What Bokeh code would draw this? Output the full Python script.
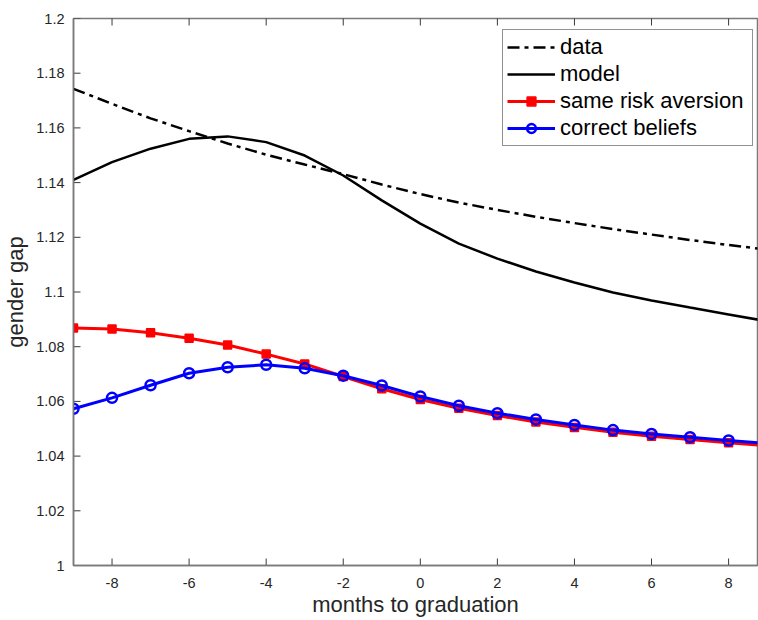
import math
from bokeh.plotting import figure
from bokeh.models import (Range1d, FixedTicker, LinearAxis, Legend, LegendItem)
from bokeh.embed import file_html
from bokeh.resources import INLINE

# months relative to graduation
months = [-9, -8, -7, -6, -5, -4, -3, -2, -1, 0, 1, 2, 3, 4, 5, 6, 7, 8, 9]

# gender gap series
data_gap = [1.1743, 1.1688, 1.1635, 1.1588, 1.1543, 1.1502, 1.1466, 1.1431, 1.1393,
            1.1358, 1.1327, 1.1300, 1.1275, 1.1252, 1.1230, 1.1210, 1.1190, 1.1172, 1.1155]
model_gap = [1.1410, 1.1475, 1.1524, 1.1560, 1.1569, 1.1548, 1.1499, 1.1426, 1.1335,
             1.1250, 1.1177, 1.1122, 1.1075, 1.1035, 1.0998, 1.0969, 1.0943, 1.0918, 1.0893]
same_risk_gap = [1.0868, 1.0865, 1.0851, 1.0831, 1.0806, 1.0773, 1.0737, 1.0691, 1.0646,
                 1.0607, 1.0575, 1.0548, 1.0525, 1.0505, 1.0487, 1.0473, 1.0461, 1.0449, 1.0438]
correct_beliefs_gap = [1.0573, 1.0613, 1.0659, 1.0703, 1.0725, 1.0734, 1.0721, 1.0694, 1.0658,
                       1.0618, 1.0584, 1.0557, 1.0534, 1.0514, 1.0495, 1.0481, 1.0469, 1.0457, 1.0446]

x_ticks = [-8, -6, -4, -2, 0, 2, 4, 6, 8]
x_tick_labels = ["-8", "-6", "-4", "-2", "0", "2", "4", "6", "8"]
y_ticks = [1.0, 1.02, 1.04, 1.06, 1.08, 1.1, 1.12, 1.14, 1.16, 1.18, 1.2]
y_tick_labels = ["1", "1.02", "1.04", "1.06", "1.08", "1.1", "1.12", "1.14", "1.16", "1.18", "1.2"]

FONT = "Liberation Sans"
AXIS_GREY = "#7a7a7a"
TICK_DARK = "#3a3a3a"
TEXT_DARK = "#262626"

x_range = Range1d(-9, 8.75)
y_range = Range1d(1.0, 1.2)

p = figure(width=758, height=620, x_range=x_range, y_range=y_range,
           output_backend="svg", toolbar_location=None,
           min_border_left=73, min_border_right=1, min_border_top=18, min_border_bottom=55)
p.xaxis.visible = False
p.yaxis.visible = False
p.grid.visible = False
p.outline_line_color = AXIS_GREY
p.outline_line_width = 1.5
p.background_fill_color = "white"
p.border_fill_color = "white"


def style_axis(ax, ticks, labels):
    ax.ticker = FixedTicker(ticks=ticks)
    ax.major_label_overrides = {t: l for t, l in zip(ticks, labels)}
    ax.major_tick_in = 0
    ax.major_tick_out = 0
    ax.minor_tick_in = 0
    ax.minor_tick_out = 0
    ax.axis_line_color = AXIS_GREY
    ax.axis_line_width = 1.5
    ax.major_label_text_font = FONT
    ax.major_label_text_font_size = "14.5px"
    ax.major_label_text_color = TEXT_DARK
    ax.axis_label_text_font = FONT
    ax.axis_label_text_font_size = "22px"
    ax.axis_label_text_font_style = "normal"
    ax.axis_label_text_color = TEXT_DARK


xb = LinearAxis(axis_label="months to graduation")
style_axis(xb, x_ticks, x_tick_labels)
xb.major_label_standoff = 12
xb.axis_label_standoff = 1
p.add_layout(xb, "below")

yl = LinearAxis(axis_label="gender gap")
style_axis(yl, y_ticks, y_tick_labels)
yl.major_label_standoff = 9
yl.axis_label_standoff = 5
p.add_layout(yl, "left")

# inward tick marks: dashes centred on the box edges, half clipped by the frame
TICK_LEN = 14
p.scatter(x_ticks, [y_range.start] * len(x_ticks), marker="dash", size=TICK_LEN,
          angle=math.pi / 2, line_color=TICK_DARK, line_width=1)
p.scatter(x_ticks, [y_range.end] * len(x_ticks), marker="dash", size=TICK_LEN,
          angle=math.pi / 2, line_color=TICK_DARK, line_width=1)
p.scatter([x_range.start] * len(y_ticks), y_ticks, marker="dash", size=TICK_LEN,
          line_color=TICK_DARK, line_width=1)

r_data = p.line(months, data_gap, line_color="black", line_width=2.5, line_dash="12 5 4 5")
r_model = p.line(months, model_gap, line_color="black", line_width=2.5)
r_red = p.line(months, same_risk_gap, line_color="red", line_width=3)
r_red_m = p.scatter(months, same_risk_gap, marker="square", size=8,
                    fill_color="red", line_color="red", line_width=1.5)
r_blue = p.line(months, correct_beliefs_gap, line_color="blue", line_width=3)
r_blue_m = p.scatter(months, correct_beliefs_gap, marker="circle", size=10,
                     fill_color=None, line_color="blue", line_width=2.5)

legend = Legend(items=[
    LegendItem(label="data", renderers=[r_data]),
    LegendItem(label="model", renderers=[r_model]),
    LegendItem(label="same risk aversion", renderers=[r_red, r_red_m]),
    LegendItem(label="correct beliefs", renderers=[r_blue, r_blue_m]),
], location=(429, 419))
legend.label_text_font = FONT
legend.label_text_font_size = "22px"
legend.label_text_color = "black"
legend.glyph_width = 48
legend.glyph_height = 22
legend.label_height = 22
legend.label_width = 188
legend.label_standoff = 5
legend.spacing = 1
legend.padding = 4
legend.margin = 0
legend.border_line_color = TEXT_DARK
legend.border_line_width = 1
legend.background_fill_color = "white"
legend.background_fill_alpha = 1
p.add_layout(legend, "center")

open("out.html", "w").write(file_html(p, INLINE))
